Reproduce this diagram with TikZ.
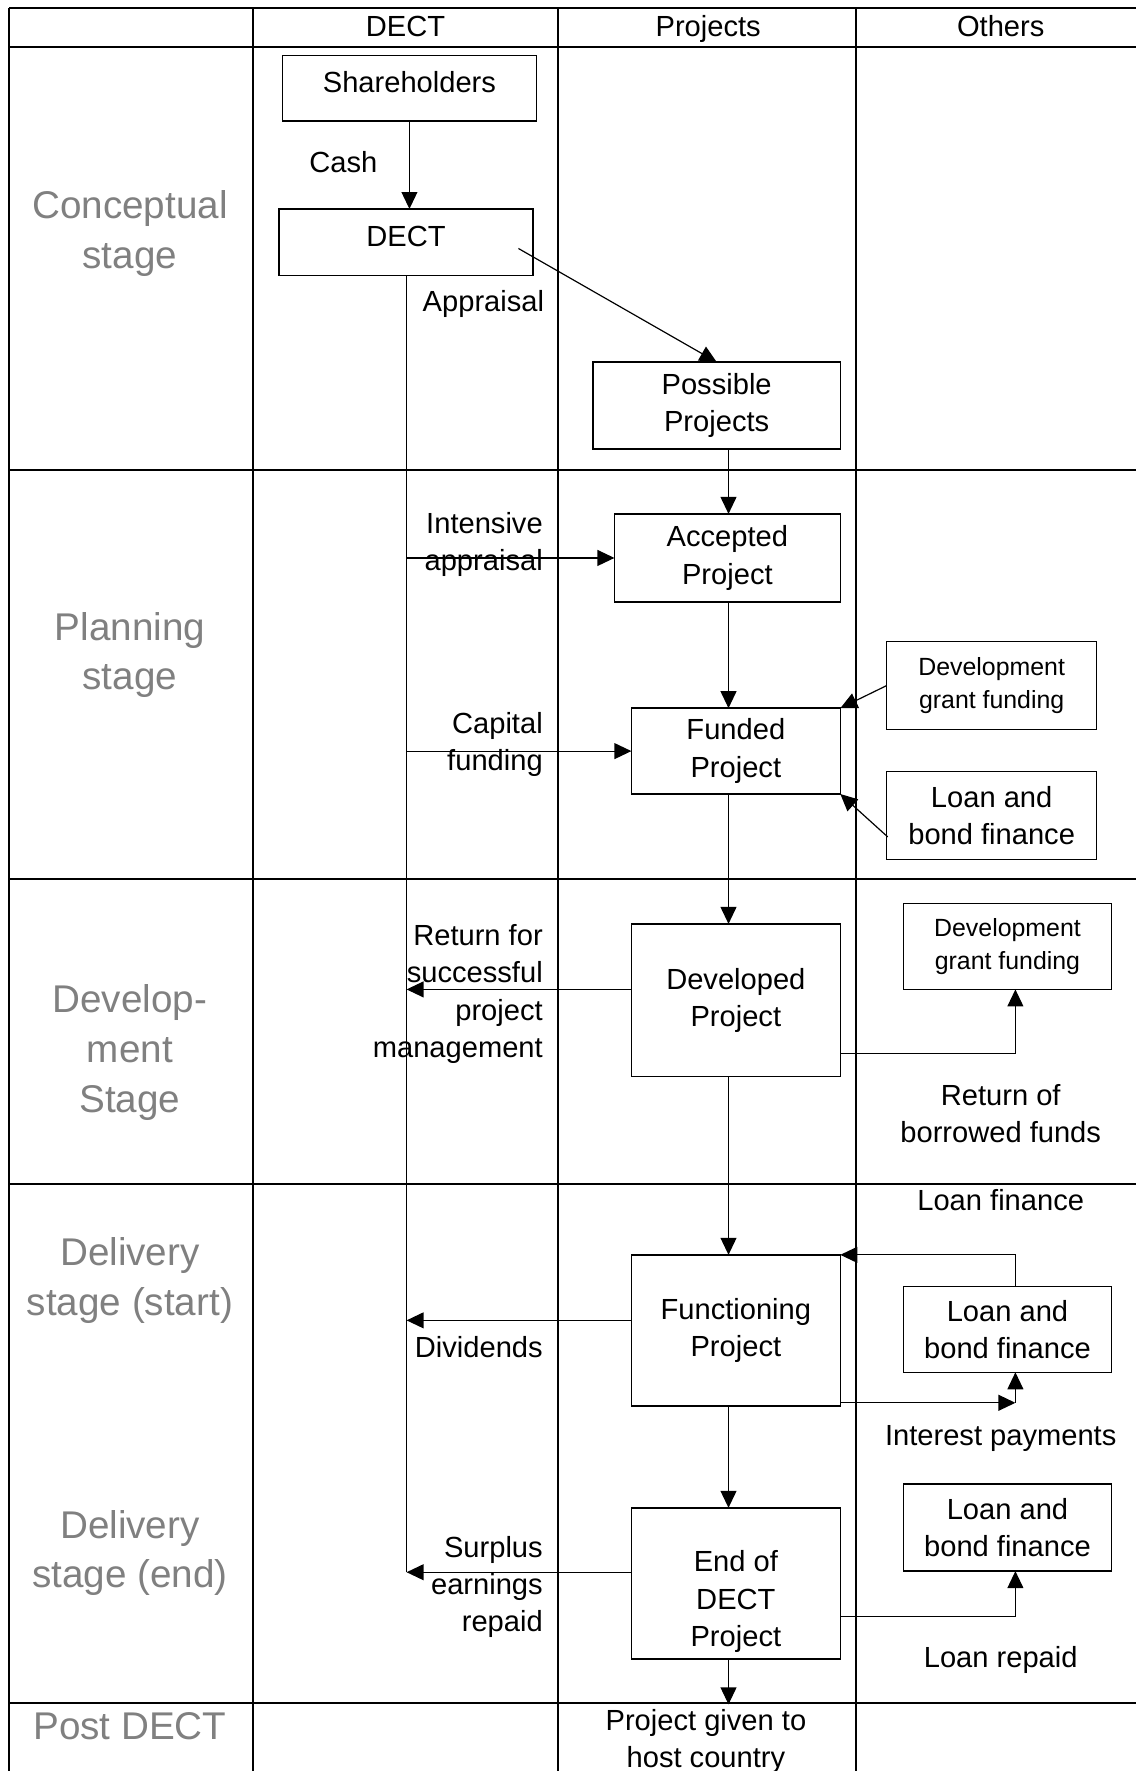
\documentclass[tikz,border=0pt]{standalone}
\usepackage{fontspec}
\setmainfont{Liberation Sans}
\usetikzlibrary{arrows.meta}
\definecolor{stagegray}{RGB}{128,128,128}
\tikzset{>={Triangle[length=6.4pt,width=6pt]}}
\tikzset{
  box/.style={draw, line width=0.55pt, inner sep=0pt, outer sep=0pt, align=center,
    font=\fontsize{11}{14.1}\selectfont},
  smallbox/.style={box, font=\fontsize{9.4}{12.4}\selectfont},
  txt/.style={inner sep=0pt, align=center, font=\fontsize{11}{14.1}\selectfont},
  stagetxt/.style={inner sep=0pt, align=center, text=stagegray,
    font=\fontsize{14.6}{18.8}\selectfont},
  tableline/.style={line width=0.8pt},
  flow/.style={->, line width=0.45pt},
}

\begin{document}
\begin{tikzpicture}[x=0.015cm, y=-0.015cm]
    \useasboundingbox (0,0) rectangle (1006,1568);

    \coordinate (trunk) at (360, 0);
    \coordinate (spine) at (645, 0);
    \coordinate (rc) at (899, 0);
    \coordinate (apstart) at (459, 220);
    \coordinate (rdev) at (360, 876);
    \coordinate (rdiv) at (360, 1169);
    \coordinate (rsur) at (360, 1392);
    \coordinate (lb1in) at (786, 741);
    \coordinate (rbf) at (899, 933);
    \coordinate (ipc) at (899, 1242);
    \coordinate (lrp) at (899, 1431);
    \coordinate (gv) at (645, 1509);

    \draw [tableline] (8,7) -- (1006,7);
    \foreach \y in {42,416,778,1048,1508}
      \draw [tableline] (8,\y) -- (1006,\y);
    \foreach \x in {8,224,494,758}
      \draw [tableline] (\x,7) -- (\x,1568);

    \node [txt,anchor=base] (hdect) at (359, 32) {DECT};
    \node [txt,anchor=base] (hproj) at (627, 32) {Projects};
    \node [txt,anchor=base] (hoth) at (886, 32) {Others};

    \node [stagetxt] (sconc) at (115, 207) {Conceptual\\stage};
    \node [stagetxt] (splan) at (115, 580) {Planning\\stage};
    \node [stagetxt] (sdev) at (115, 932) {Develop-\\ment\\Stage};
    \node [stagetxt] (sdels) at (115, 1134) {Delivery\\stage (start)};
    \node [stagetxt] (sdele) at (115, 1375) {Delivery\\stage (end)};
    \node [stagetxt,anchor=base] (spost) at (115, 1540) {Post DECT};

    \node [box,minimum width=3.375cm,minimum height=0.87cm,text depth=4.3pt] (sh)
      at (362.5, 78) {Shareholders};
    \node [box,minimum width=3.375cm,minimum height=0.885cm,text depth=4.3pt] (dect)
      at (359.5, 214.5) {DECT};
    \node [box,minimum width=3.285cm,minimum height=1.155cm] (poss)
      at (634.5, 359) {Possible\\Projects};
    \node [box,minimum width=3cm,minimum height=1.17cm] (acc)
      at (644, 494) {Accepted\\Project};
    \node [box,minimum width=2.775cm,minimum height=1.14cm] (fund)
      at (651.5, 665) {Funded\\Project};
    \node [box,minimum width=2.775cm,minimum height=2.025cm] (devd)
      at (651.5, 885.5) {Developed\\Project};
    \node [box,minimum width=2.775cm,minimum height=2.01cm] (func)
      at (651.5, 1178) {Functioning\\Project};
    \node [box,minimum width=2.775cm,minimum height=2.01cm,
      label={[txt,yshift=-0.24cm]center:End of\\DECT\\Project}] (endp)
      at (651.5, 1402) {};

    \node [smallbox,minimum width=2.79cm,minimum height=1.17cm] (dg1)
      at (878, 607) {Development\\grant funding};
    \node [box,minimum width=2.79cm,minimum height=1.17cm] (lb1)
      at (878, 722) {Loan and\\bond finance};
    \node [smallbox,minimum width=2.76cm,minimum height=1.14cm] (dg2)
      at (892, 838) {Development\\grant funding};
    \node [box,minimum width=2.76cm,minimum height=1.14cm] (lb2)
      at (892, 1177) {Loan and\\bond finance};
    \node [box,minimum width=2.76cm,minimum height=1.155cm] (lb3)
      at (892, 1352.5) {Loan and\\bond finance};

    \node [txt,anchor=base] (lcash) at (304, 153) {Cash};
    \node [txt,anchor=base] (lappr) at (428, 276) {Appraisal};
    \node [txt,anchor=east,align=right] (lint) at (481, 482) {Intensive\\appraisal};
    \node [txt,anchor=east,align=right] (lcap) at (481, 659) {Capital\\funding};
    \node [txt,anchor=east,align=right] (lret) at (481, 880)
      {Return for\\successful\\project\\management};
    \node [txt,anchor=base east] (ldiv) at (481, 1202) {Dividends};
    \node [txt,anchor=east,align=right] (lsur) at (481, 1405)
      {Surplus\\earnings\\repaid};
    \node [txt] (lrbf) at (886, 986) {Return of\\borrowed funds};
    \node [txt,anchor=base] (llf) at (886, 1072) {Loan finance};
    \node [txt,anchor=base] (lip) at (886, 1280) {Interest payments};
    \node [txt,anchor=base] (llr) at (886, 1476) {Loan repaid};
    \node [txt] (given) at (625, 1542) {Project given to\\host country};

    \draw [flow] (sh.south) -- (sh.south |- dect.north);
    \draw [flow] (apstart) -- (poss.north);
    \draw [line width=0.45pt] (trunk |- dect.south) -- (rsur);
    \draw [flow] (trunk |- acc.west) -- (acc.west);
    \draw [flow] (trunk |- fund.west) -- (fund.west);
    \draw [flow] (devd.west |- rdev) -- (rdev);
    \draw [flow] (func.west |- rdiv) -- (rdiv);
    \draw [flow] (endp.west |- rsur) -- (rsur);

    \draw [flow] (spine |- poss.south) -- (spine |- acc.north);
    \draw [flow] (spine |- acc.south) -- (spine |- fund.north);
    \draw [flow] (spine |- fund.south) -- (spine |- devd.north);
    \draw [flow] (spine |- devd.south) -- (spine |- func.north);
    \draw [flow] (spine |- func.south) -- (spine |- endp.north);
    \draw [flow] (spine |- endp.south) -- (gv);

    \draw [flow] (dg1.west) -- (fund.north east);
    \draw [flow] (lb1in) -- (fund.south east);
    \draw [flow] (devd.east |- rbf) -| (rbf |- dg2.south);
    \draw [flow] (lb2.north -| rc) |- (func.north east);
    \draw [flow] (func.east |- ipc) -- (ipc);
    \draw [flow] (ipc) -- (ipc |- lb2.south);
    \draw [flow] (endp.east |- lrp) -| (lrp |- lb3.south);

  \end{tikzpicture}
\end{document}
